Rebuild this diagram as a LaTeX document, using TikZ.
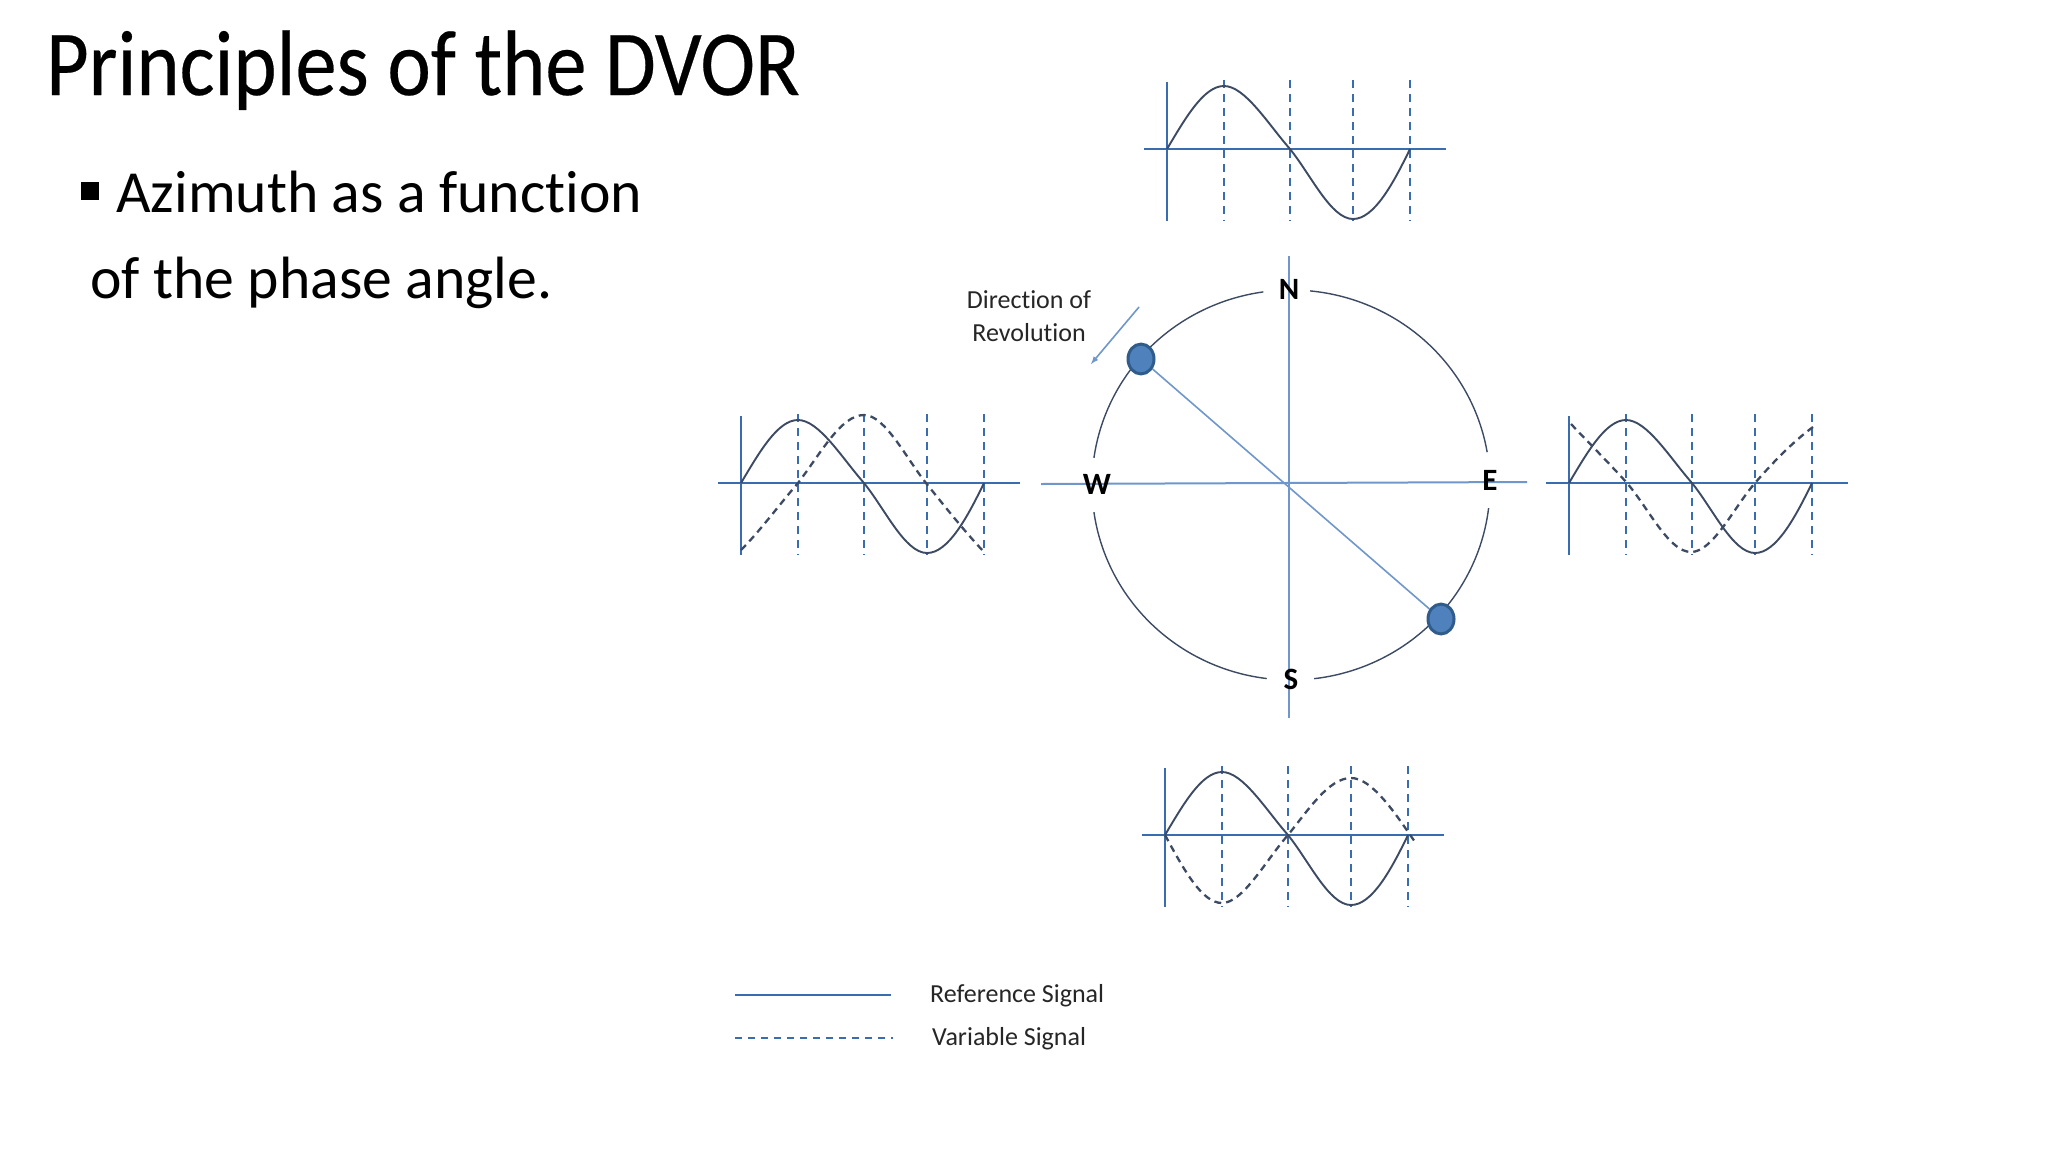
\documentclass[tikz,border=0pt]{standalone}
\usepackage{fontspec}
\setmainfont[Ligatures=CommonOff]{Carlito}
\newfontfamily\headfont[Ligatures=CommonOff,FakeStretch=0.886,FakeBold=0.25]{Carlito}
\definecolor{sigblue}{HTML}{3A6DB0}
\definecolor{rayblue}{HTML}{6F97CC}
\definecolor{sigdark}{HTML}{3D4A63}
\definecolor{dotfill}{HTML}{4F81BD}
\definecolor{dotedge}{HTML}{2F5C8A}
\begin{document}
\begin{tikzpicture}[x=1pt,y=-1pt,
    axisline/.style={draw=sigblue,line width=1.8pt},
    gridline/.style={draw=sigblue,line width=1.6pt,dash pattern=on 8pt off 6pt},
    refsig/.style={draw=sigdark,line width=1.9pt},
    varsig/.style={draw=sigdark,line width=2.3pt,dash pattern=on 7pt off 5pt},
    ring/.style={draw=sigdark,line width=1.4pt},
    ray/.style={draw=rayblue,line width=2pt},
    compass/.style={font=\fontsize{31}{31}\selectfont\bfseries,inner sep=0pt},
    small/.style={font=\fontsize{26}{26}\selectfont,inner sep=0pt,text=black!85},
    station/.style={circle,fill=dotfill,draw=dotedge,line width=3pt,
      minimum width=26pt,inner sep=0pt,yscale=1.15}]
  \path[use as bounding box,fill=white](0,0)rectangle(2048,1152);
  % heading and bullet
  \node[anchor=base west,inner sep=0pt,font=\fontsize{93}{93}\selectfont\headfont](title)at(46,95){Principles of the DVOR};
  \node[fill=black,minimum size=18pt,inner sep=0pt](bullet)at(90,191){};
  \node[anchor=base west,inner sep=0pt,font=\fontsize{59.7}{59.7}\selectfont](lineone)at(116,212){Azimuth as a function};
  \node[anchor=base west,inner sep=0pt,font=\fontsize{59.7}{59.7}\selectfont](linetwo)at(90,298){of the phase angle.};
  % the four signal panels
  \foreach \px/\py in {1167/149,741/483,1569/483,1165/835}{
    \begin{scope}[shift={(\px,\py)}]
      \draw[axisline](-23,0)--(279,0);
      \draw[axisline](0,-67)--(0,72);
      \foreach \x in {57,123,186,243}{
        \draw[gridline](\x,-69)--(\x,72);
      }
      \draw[refsig](0,0).. controls (19,-32) and (37,-63) .. (57,-63)
        .. controls (78,-63) and (101,-25) .. (123,0)
        .. controls (144,26) and (164,70) .. (186,70)
        .. controls (207,70) and (226,35) .. (243,0);
    \end{scope}
  }
  \begin{scope}[shift={(741,483)}]
    \draw[varsig](0,67).. controls (19,48) and (38,22) .. (57,0)
      .. controls (80,-30) and (100,-68) .. (123,-68)
      .. controls (144,-68) and (165,-25) .. (185,0)
      .. controls (205,25) and (225,50) .. (243,69);
  \end{scope}
  \begin{scope}[shift={(1569,483)}]
    \draw[varsig](2,-59).. controls (20,-40) and (38,-22) .. (58,0)
      .. controls (80,26) and (100,69) .. (122,69)
      .. controls (144,69) and (165,24) .. (186,0)
      .. controls (205,-22) and (225,-42) .. (244,-56);
  \end{scope}
  \begin{scope}[shift={(1165,835)}]
    \draw[varsig](0,0).. controls (19,35) and (37,68) .. (57,68)
      .. controls (78,68) and (101,25) .. (123,0)
      .. controls (144,-26) and (164,-57) .. (186,-57)
      .. controls (207,-57) and (230,-22) .. (250,7);
  \end{scope}
  % compass
  \coordinate(axisN)at(1289,256);
  \coordinate(axisS)at(1289,718);
  \coordinate(axisW)at(1041,484);
  \coordinate(axisE)at(1527,482);
  \draw[ray](axisN)--(axisS);
  \draw[ray](axisW)--(axisE);
  \foreach \a/\b in {-84.5/-9.7,6.8/83.3,97/172,188/262}{
    \draw[ring] plot[domain=\a:\b,samples=40,smooth]({1291+199*cos(\x)},{485+195*sin(\x)});
  }
  \node[station](dotNW)at(1141,359){};
  \node[station](dotSE)at(1441,619){};
  \draw[ray,line width=1.6pt](dotNW)--(dotSE);
  \node[compass](labN)at(1289,289){N};
  \node[compass](labS)at(1291,679){S};
  \node[compass](labW)at(1097,484){W};
  \node[compass](labE)at(1490,480){E};
  % direction of revolution
  \node[small,align=center](revlabel)at(1029,316){Direction of\\[7pt]Revolution};
  \coordinate(revtail)at(1139,307);
  \coordinate(revhead)at(1091,364);
  \draw[ray,line width=1.6pt,-latex](revtail)--(revhead);
  % legend
  \coordinate(refstart)at(735,995);
  \coordinate(refend)at(891,995);
  \coordinate(varstart)at(735,1038);
  \coordinate(varend)at(893,1038);
  \draw[axisline](refstart)--(refend);
  \draw[axisline,line width=1.3pt,dash pattern=on 7pt off 6pt](varstart)--(varend);
  \node[small,anchor=west](refname)at(930,996){Reference Signal};
  \node[small,anchor=west](varname)at(932,1039){Variable Signal};
\end{tikzpicture}
\end{document}
